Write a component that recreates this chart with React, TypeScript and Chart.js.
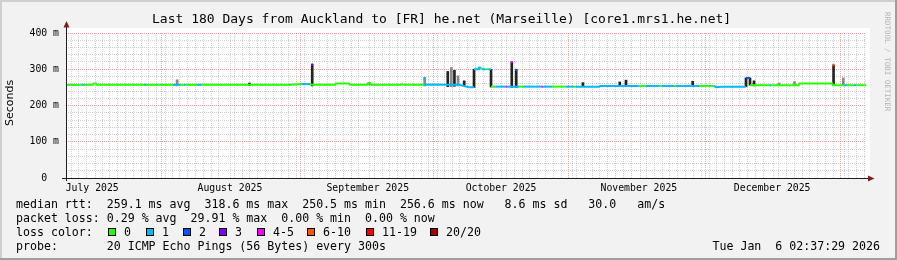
import React, { useEffect, useRef } from 'react';
import { Chart, registerables } from 'chart.js';

Chart.register(...registerables);

const W = 897;
const H = 260;

// x axis: days since the start of the 180 day window (Jul 10 2025 02:37)
const monthStartDays = [-9.109, 21.891, 52.891, 82.891, 113.891, 143.891, 174.891];
const monthLabelDays = [5.891, 36.891, 67.891, 97.891, 128.891, 158.891];
const monthLabels = ['July 2025', 'August 2025', 'September 2025', 'October 2025', 'November 2025', 'December 2025'];
const minorGridStartDay = 2.0;
const minorGridStepDays = 1.75;

const yTickValues = [0, 100, 200, 300, 400];
const yTickLabels = ['0  ', '100 m', '200 m', '300 m', '400 m'];
const yMinorStep = 20;

const lossLabels = ['0', '1', '2', '3', '4-5', '6-10', '11-19', '20/20'];
const lossColors = ['#26ff00', '#00b8ff', '#0059ff', '#7e00ff', '#ff00ff', '#ff5500', '#ff0000', '#a10000'];
const lossSquareX = [108, 146, 183, 219, 257, 307, 366, 430];

// median rtt (ms) and loss class of the segment that starts at each point
const medianDay = [0, 3.6, 4.05, 6.08, 6.3, 6.75, 6.98, 17.55, 18.0, 20.48, 20.8, 24.08, 25.65, 26.55, 26.78, 27.68, 27.9, 29.48, 30.38, 43.88, 44.1, 50.18, 50.4, 53.1, 54.9, 55.6, 60.5, 60.75, 63.68, 63.9, 67.73, 68.0, 68.4, 68.63, 75.38, 75.6, 76.05, 80.55, 81.0, 85.73, 88.43, 90.68, 91.8, 91.8, 92.7, 92.9, 93.38, 93.6, 94.28, 95.0, 95.63, 95.63, 96.75, 99.0, 99.3, 101.93, 102.83, 107.1, 107.4, 109.35, 112.5, 114.3, 114.75, 119.93, 120.2, 128.9, 130.5, 133.43, 134.1, 136.8, 137.25, 142.43, 145.8, 146.25, 147.38, 153.0, 153.0, 153.9, 153.9, 158.2, 158.6, 164.8, 165.0, 172.4, 172.6, 175.1, 175.7, 177.3, 177.8, 180];
const medianMs = [257, 257, 257, 257, 261, 261, 257, 257, 257, 257, 257, 257, 257, 257, 257, 257, 257, 257, 257, 257, 257, 257, 257, 259, 259, 257, 257, 261, 261, 257, 257, 262, 262, 257, 257, 259, 257, 257, 258, 257, 257, 250.5, 250.5, 300, 300, 304, 304, 300, 300, 300, 300, 252, 252, 252, 252, 252, 252, 252, 252, 252, 252, 252, 252, 252, 254, 254, 254, 254, 254, 254, 254, 254, 254, 250.5, 252, 252, 276, 276, 256, 256, 256, 256, 260.5, 260.5, 256, 256, 256, 256, 256, 256];
const medianLoss = [0, 1, 0, 0, 0, 0, 0, 1, 0, 1, 0, 1, 0, 1, 0, 1, 0, 1, 0, 1, 0, 1, 0, 1, 0, 0, 0, 0, 0, 0, 0, 0, 0, 0, 0, 0, 0, 1, 1, 1, 1, 1, 1, 1, 1, 1, 0, 1, 0, 1, 1, 0, 1, 4, 1, 0, 1, 4, 1, 0, 1, 0, 1, 1, 1, 0, 1, 0, 1, 0, 1, 0, 1, 1, 1, 2, 2, 2, 0, 1, 0, 0, 0, 0, 0, 1, 0, 1, 0, 0];

// smoke (ping spread) spikes
const smokeDay = [25.0, 41.3, 55.4, 68.3, 80.7, 85.9, 86.7, 87.4, 88.2, 89.6, 91.8, 95.63, 100.3, 101.3, 116.3, 124.6, 126.0, 141.0, 153.0, 153.9, 154.8, 160.4, 163.9, 172.7, 174.9];
const smokeLow = [254, 255, 254, 256, 254, 252, 252, 253, 254, 255, 250, 251, 250, 250, 252, 252, 252, 252, 252, 256, 254, 255, 255, 255, 256];
const smokeHigh = [271, 262, 313, 264, 278, 294, 305, 297, 282, 268, 300, 300, 320, 300, 263, 265, 270, 267, 276, 276, 268, 262, 266, 312, 276];
const smokeShade = [1, 0, 0, 1, 1, 0, 1, 0, 1, 0, 0, 0, 0, 0, 0, 0, 0, 0, 0, 0, 0, 1, 1, 0, 1];
const smokeColors = ['#222222', '#8a8a8a'];

// median value at the top of spikes
const tipDay = [55.4, 80.7, 100.3, 101.3, 172.7];
const tipMs = [313, 274, 320, 298, 312];
const tipLoss = [3, 1, 4, 2, 5];

const titleText = 'Last 180 Days from Auckland to [FR] he.net (Marseille) [core1.mrs1.he.net]';
const legendMedian = 'median rtt:  259.1 ms avg  318.6 ms max  250.5 ms min  256.6 ms now   8.6 ms sd   30.0   am/s';
const legendLoss = 'packet loss: 0.29 % avg  29.91 % max  0.00 % min  0.00 % now';
const legendColor = 'loss color:';
const legendProbe = 'probe:       20 ICMP Echo Pings (56 Bytes) every 300s';
const dateText = 'Tue Jan  6 02:37:29 2026';
const watermark = 'RRDTOOL / TOBI OETIKER';

const MINOR = 'rgba(143,143,143,0.42)';
const MAJOR = 'rgba(222,79,79,0.5)';
const MONO = '"DejaVu Sans Mono", monospace';

const decor = {
  id: 'decor',
  beforeDraw(chart: any) {
    const { ctx, chartArea: a } = chart;
    ctx.save();
    ctx.fillStyle = '#f2f2f2';
    ctx.fillRect(0, 0, W, H);
    ctx.fillStyle = '#ffffff';
    ctx.fillRect(a.left, a.top - 5, a.right - a.left + 4, a.bottom - a.top + 5);
    ctx.fillStyle = '#cfcfcf';
    ctx.fillRect(0, 0, W, 2);
    ctx.fillRect(0, 0, 2, H);
    ctx.fillStyle = '#9e9e9e';
    ctx.fillRect(0, H - 2, W, 2);
    ctx.fillRect(W - 2, 0, 2, H);
    ctx.restore();
  },
  afterDraw(chart: any) {
    const { ctx, chartArea: a } = chart;
    ctx.save();
    // axes
    ctx.fillStyle = '#1f1f1f';
    ctx.fillRect(a.left, a.top - 6, 1, a.bottom - a.top + 9);
    ctx.fillRect(a.left - 4, a.bottom, a.right - a.left + 6, 1);
    ctx.fillStyle = '#7f1f1f';
    ctx.beginPath();
    ctx.moveTo(a.left + 0.5, a.top - 12);
    ctx.lineTo(a.left - 2.5, a.top - 5.5);
    ctx.lineTo(a.left + 3.5, a.top - 5.5);
    ctx.closePath();
    ctx.fill();
    ctx.beginPath();
    ctx.moveTo(a.right + 8.5, a.bottom + 0.5);
    ctx.lineTo(a.right + 2, a.bottom - 2.5);
    ctx.lineTo(a.right + 2, a.bottom + 3.5);
    ctx.closePath();
    ctx.fill();

    // title
    ctx.fillStyle = '#000';
    ctx.textAlign = 'left';
    ctx.textBaseline = 'alphabetic';
    ctx.font = '13px ' + MONO;
    ctx.fillText(titleText, 152, 23);

    // y label
    ctx.save();
    ctx.translate(10.5, 103);
    ctx.rotate(-Math.PI / 2);
    ctx.font = '11px "DejaVu Sans", sans-serif';
    ctx.textAlign = 'center';
    ctx.textBaseline = 'middle';
    ctx.fillText('Seconds', 0, 0);
    ctx.restore();

    // watermark
    ctx.save();
    ctx.translate(887, 12);
    ctx.rotate(Math.PI / 2);
    ctx.font = '7.5px ' + MONO;
    ctx.fillStyle = '#b4b4b4';
    ctx.textAlign = 'left';
    ctx.textBaseline = 'middle';
    ctx.fillText(watermark, 0, 0);
    ctx.restore();

    // legend
    ctx.font = '11.6px ' + MONO;
    ctx.fillStyle = '#000';
    ctx.fillText(legendMedian, 16, 208);
    ctx.fillText(legendLoss, 16, 222);
    ctx.fillText(legendColor, 16, 236);
    lossLabels.forEach((lab, i) => {
      const x = lossSquareX[i];
      ctx.fillStyle = lossColors[i];
      ctx.fillRect(x, 228, 8, 8);
      ctx.strokeStyle = '#000';
      ctx.lineWidth = 1;
      ctx.strokeRect(x + 0.5, 228.5, 7, 7);
      ctx.fillStyle = '#000';
      ctx.fillText(lab, x + 16, 236);
    });
    ctx.fillText(legendProbe, 16, 250);
    ctx.textAlign = 'right';
    ctx.fillText(dateText, 880, 250);
    ctx.restore();
  },
};

export default function App() {
  const canvasRef = useRef<HTMLCanvasElement | null>(null);

  useEffect(() => {
    document.body.style.margin = '0';
    const canvas = canvasRef.current;
    if (!canvas) return;

    const medianData = medianDay.map((d, i) => ({ x: d, y: medianMs[i] }));
    const smokeData = smokeDay.map((d, i) => ({ x: d, y: [smokeLow[i], smokeHigh[i]] }));
    const tipData = tipDay.map((d, i) => ({ x: d, y: tipMs[i] }));

    const chart = new Chart(canvas, {
      type: 'line',
      data: {
        datasets: [
          {
            type: 'scatter',
            data: tipData,
            order: 0,
            pointStyle: 'rect',
            pointRadius: 1.5,
            pointBackgroundColor: tipLoss.map((l) => lossColors[l]),
            pointBorderWidth: 0,
            showLine: false,
          } as any,
          {
            type: 'line',
            data: medianData,
            order: 1,
            borderWidth: 2,
            pointRadius: 0,
            fill: false,
            tension: 0,
            borderColor: lossColors[0],
            borderCapStyle: 'butt',
            segment: {
              borderColor: (c: any) => {
                if (Math.abs(c.p0.parsed.y - c.p1.parsed.y) > 15) return 'rgba(0,0,0,0)';
                return lossColors[medianLoss[c.p0DataIndex]];
              },
            },
          } as any,
          {
            type: 'bar',
            data: smokeData,
            order: 2,
            backgroundColor: smokeShade.map((s) => smokeColors[s]),
            barThickness: 2,
            grouped: false,
            borderWidth: 0,
          } as any,
        ],
      },
      options: {
        responsive: false,
        devicePixelRatio: 1,
        animation: false,
        events: [],
        layout: { padding: { left: 0, right: 31, top: 33, bottom: 0 } },
        plugins: { legend: { display: false }, tooltip: { enabled: false }, title: { display: false } },
        scales: {
          x: {
            type: 'linear',
            min: 0,
            max: 180,
            offset: false,
            afterBuildTicks: (axis: any) => {
              const vals: number[] = [];
              for (let d = minorGridStartDay; d < 180; d += minorGridStepDays) vals.push(d);
              monthStartDays.forEach((d) => { if (d > 0 && d < 180) vals.push(d); });
              monthLabelDays.forEach((d) => { if (d > 0 && d < 180) vals.push(d); });
              vals.sort((p, q) => p - q);
              axis.ticks = vals.map((v) => ({ value: v }));
            },
            afterFit: (axis: any) => { axis.height = 82; },
            grid: {
              color: (c: any) => {
                const v = c.tick ? c.tick.value : NaN;
                if (monthStartDays.includes(v)) return MAJOR;
                if (monthLabelDays.includes(v)) return 'rgba(0,0,0,0)';
                return MINOR;
              },
              lineWidth: 1,
              drawTicks: false,
            },
            border: { display: false, dash: [1, 1] },
            ticks: {
              autoSkip: false,
              maxRotation: 0,
              minRotation: 0,
              padding: 5,
              color: '#000',
              font: { family: MONO, size: 9.8 },
              callback: (v: any) => {
                const i = monthLabelDays.indexOf(v);
                return i >= 0 ? monthLabels[i] : '';
              },
            },
          },
          y: {
            type: 'linear',
            min: 0,
            max: 400,
            afterBuildTicks: (axis: any) => {
              const vals: number[] = [];
              for (let v = 0; v <= 400; v += yMinorStep) vals.push(v);
              axis.ticks = vals.map((v) => ({ value: v }));
            },
            afterFit: (axis: any) => { axis.width = 66; },
            grid: {
              color: (c: any) => {
                const v = c.tick ? c.tick.value : NaN;
                if (v === 0) return 'rgba(0,0,0,0)';
                return v % 100 === 0 ? MAJOR : MINOR;
              },
              lineWidth: 1,
              drawTicks: false,
            },
            border: { display: false, dash: [1, 1] },
            ticks: {
              autoSkip: false,
              padding: 7,
              color: '#000',
              font: { family: MONO, size: 9.8 },
              callback: (v: any) => {
                const i = yTickValues.indexOf(v);
                return i >= 0 ? yTickLabels[i] : '';
              },
            },
          },
        },
      } as any,
      plugins: [decor],
    });

    return () => chart.destroy();
  }, []);

  return <canvas ref={canvasRef} width={W} height={H} style={{ display: 'block', width: W, height: H }} />;
}
